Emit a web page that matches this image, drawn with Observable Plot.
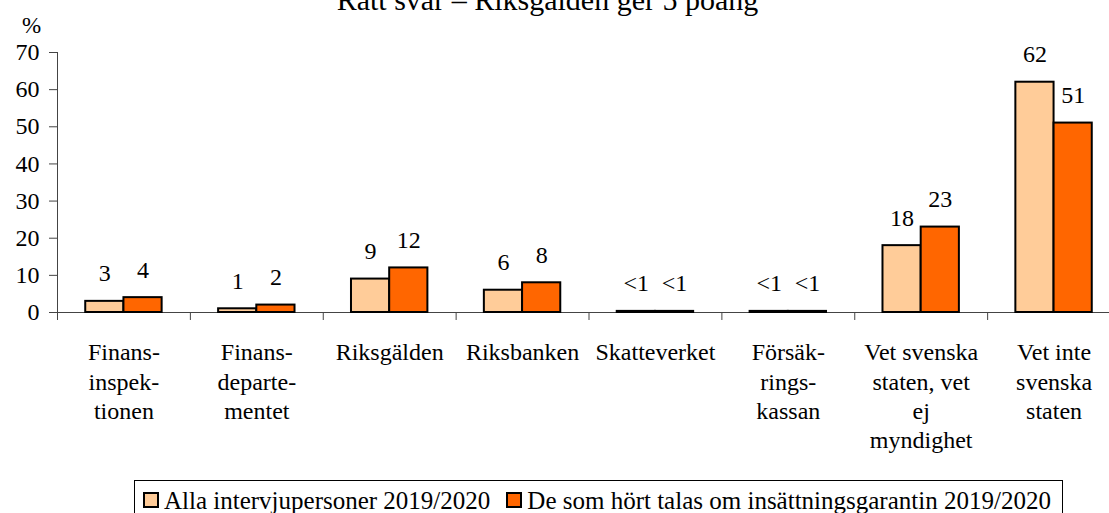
<!DOCTYPE html>
<html>
<head>
<meta charset="utf-8">
<script src="https://cdn.jsdelivr.net/npm/d3@7"></script>
<script src="https://cdn.jsdelivr.net/npm/@observablehq/plot@0.6"></script>
<style>
  body { margin: 0; background: #fff; }
  #wrap { position: relative; width: 1109px; height: 513px; overflow: hidden; font-family: "Liberation Serif", serif; color: #000; }
  #legend { position: absolute; left: 134px; top: 480px; width: 929px; height: 40px; border: 1px solid #000; border-bottom: none; box-sizing: border-box; display: flex; align-items: flex-start; padding: 7px 0 0 8px; font-size: 25px; line-height: 25px; white-space: nowrap; }
  .sw { display: inline-block; width: 16px; height: 16px; border: 2px solid #000; box-sizing: border-box; margin-top: 4px; }
  .lt { margin-left: 5px; }
  .gap { width: 16px; display: inline-block; }
</style>
</head>
<body>
<div id="wrap">
  <div id="chart"></div>
  <div id="legend"></div>
</div>
<script>
const title = "Rätt svar – Riksgälden ger 5 poäng";
const yLabel = "%";
const categories = ["Finansinspektionen", "Finansdepartementet", "Riksgälden", "Riksbanken", "Skatteverket", "Försäkringskassan", "Vet svenska staten, vet ej myndighet", "Vet inte svenska staten"];
const tickLabels = ["Finans-\ninspek-\ntionen", "Finans-\ndeparte-\nmentet", "Riksgälden", "Riksbanken", "Skatteverket", "Försäk-\nrings-\nkassan", "Vet svenska\nstaten, vet\nej\nmyndighet", "Vet inte\nsvenska\nstaten"];
const seriesNames = ["Alla intervjupersoner 2019/2020", "De som hört talas om insättningsgarantin 2019/2020"];
const seriesColors = ["#FFCC99", "#FF6600"];
const valuesAll = [3, 1, 9, 6, 0.3, 0.3, 18, 62];
const labelsAll = ["3", "1", "9", "6", "<1", "<1", "18", "62"];
const valuesHeard = [4, 2, 12, 8, 0.3, 0.3, 23, 51];
const labelsHeard = ["4", "2", "12", "8", "<1", "<1", "23", "51"];
const yTicks = [0, 10, 20, 30, 40, 50, 60, 70];

const dataAll = categories.map((c, i) => ({cat: c, value: valuesAll[i], label: labelsAll[i]}));
const dataHeard = categories.map((c, i) => ({cat: c, value: valuesHeard[i], label: labelsHeard[i]}));
const tickData = categories.map((c, i) => ({cat: c, label: tickLabels[i]}));

const xRange = [57, 1120];
const bw = (xRange[1] - xRange[0]) / categories.length;
const barW = 38.2;
const half = bw / 2;
const axisColor = "#444";
const fam = "Liberation Serif";

const chart = Plot.plot({
  width: 1109,
  height: 513,
  marginLeft: 57,
  marginRight: 0,
  marginTop: 52,
  marginBottom: 201,
  style: {fontFamily: fam, fontSize: "24px", color: "#000", background: "transparent", overflow: "visible"},
  x: {domain: categories, range: xRange, padding: 0, round: false, axis: null},
  y: {domain: [0, 70], range: [312, 52], axis: null},
  marks: [
    Plot.frame({anchor: "left", stroke: axisColor}),
    Plot.ruleY([0], {stroke: axisColor}),
    Plot.ruleX(categories, {x: d => d, y1: 0, y2: -2.15, dx: -half, stroke: axisColor}),
    Plot.axisY({ticks: yTicks, tickSize: 8, tickPadding: 10, fontSize: 24, fontFamily: fam, label: null, stroke: axisColor}),
    Plot.barY(dataAll, {x: "cat", y: "value", fill: seriesColors[0], stroke: "#000", strokeWidth: 2, insetLeft: half - barW, insetRight: half}),
    Plot.barY(dataHeard, {x: "cat", y: "value", fill: seriesColors[1], stroke: "#000", strokeWidth: 2, insetLeft: half, insetRight: half - barW}),
    Plot.text(dataAll, {x: "cat", y: "value", text: "label", dx: -barW / 2, dy: -27.7, lineAnchor: "middle", fontSize: 24, fontFamily: fam, fill: "#000"}),
    Plot.text(dataHeard, {x: "cat", y: "value", text: "label", dx: barW / 2, dy: -27.7, lineAnchor: "middle", fontSize: 24, fontFamily: fam, fill: "#000"}),
    Plot.text(tickData, {x: "cat", text: "label", frameAnchor: "bottom", dy: 27, lineAnchor: "top", lineHeight: 1.22, fontSize: 24, fontFamily: fam, fill: "#000"}),
    Plot.text([yLabel], {frameAnchor: "top-left", dx: -26, dy: -27, textAnchor: "middle", lineAnchor: "middle", fontSize: 23, fontFamily: fam, fill: "#000"}),
    Plot.text([title], {frameAnchor: "top-left", dx: 490, dy: -52.6, textAnchor: "middle", lineAnchor: "middle", fontSize: 30, fontFamily: fam, fill: "#000"})
  ]
});
d3.select(chart).selectAll("text, g").attr("font-family", fam).style("font-family", fam);
document.getElementById("chart").appendChild(chart);

const legend = document.getElementById("legend");
seriesNames.forEach((name, i) => {
  if (i > 0) { const g = document.createElement("span"); g.className = "gap"; legend.appendChild(g); }
  const sw = document.createElement("span");
  sw.className = "sw";
  sw.style.background = seriesColors[i];
  legend.appendChild(sw);
  const t = document.createElement("span");
  t.className = "lt";
  t.textContent = name;
  legend.appendChild(t);
});
</script>
</body>
</html>
